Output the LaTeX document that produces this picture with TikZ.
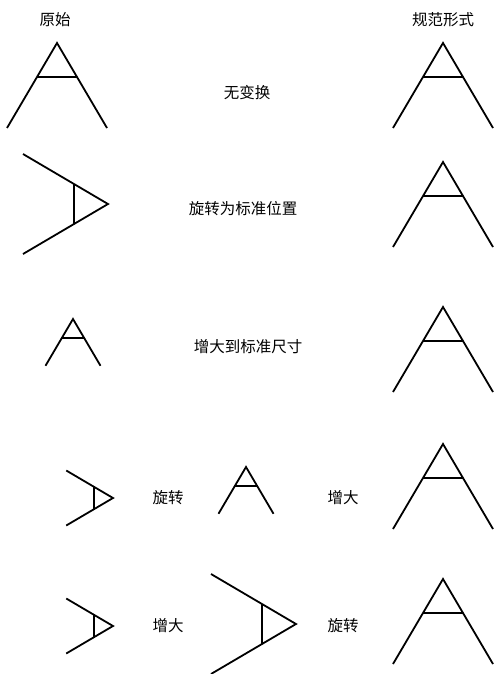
\documentclass[tikz,border=0pt]{standalone}
\usepackage{fontspec}
\newfontfamily\cjk{Noto Sans CJK SC}
\tikzset{
  pics/glyph/.style={code={
    \draw (-50,85) -- (0,0) -- (50,85);
    \draw (-20,34) -- (20,34);
  }},
  lbl/.style={font=\cjk\fontsize{15.5}{17}\selectfont},
}
\begin{document}
\begin{tikzpicture}[x=1pt,y=-1pt,line width=1.8pt]
\useasboundingbox (0,0) rectangle (496,674);

\node[lbl] (orig) at (55,20) {原始};
\node[lbl] (canon) at (443,20) {规范形式};

% row 1
\pic at (57,43) {glyph};
\node[lbl] (none) at (247,93) {无变换};
\pic at (443,43) {glyph};

% row 2
\pic[rotate=-90] at (108,204) {glyph};
\node[lbl] (rotstd) at (243,209) {旋转为标准位置};
\pic at (443,162) {glyph};

% row 3
\pic[scale=0.55] at (73,319) {glyph};
\node[lbl] (grow) at (248,347) {增大到标准尺寸};
\pic at (443,307) {glyph};

% row 4
\pic[scale=0.55,rotate=-90] at (113,498) {glyph};
\node[lbl] (rotA) at (168,498) {旋转};
\pic[scale=0.55] at (246,467) {glyph};
\node[lbl] (growA) at (343,498) {增大};
\pic at (443,444) {glyph};

% row 5
\pic[scale=0.55,rotate=-90] at (113,626) {glyph};
\node[lbl] (growB) at (168,626) {增大};
\pic[rotate=-90] at (296,624) {glyph};
\node[lbl] (rotB) at (343,626) {旋转};
\pic at (443,579) {glyph};

\end{tikzpicture}
\end{document}
